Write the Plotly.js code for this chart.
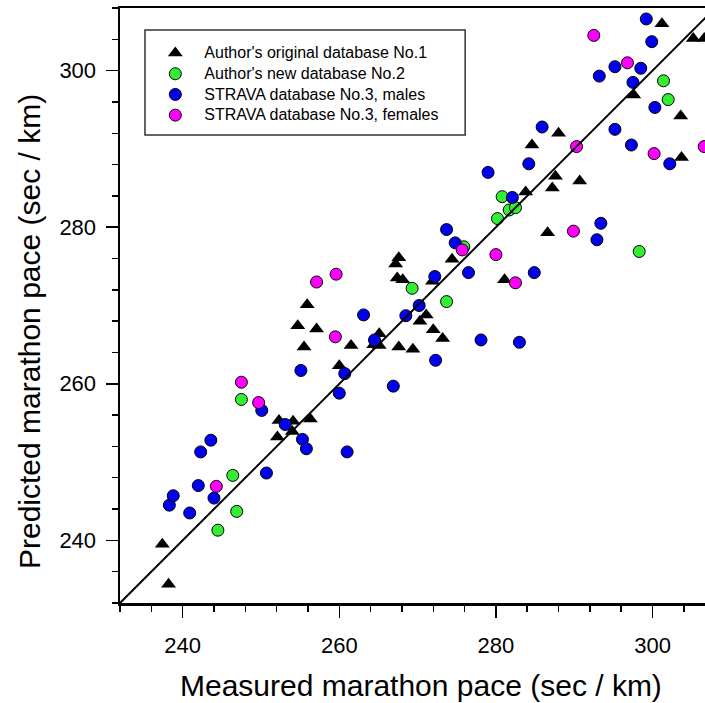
<!DOCTYPE html>
<html>
<head>
<meta charset="utf-8">
<script src="https://cdn.plot.ly/plotly-3.0.1.min.js"></script>
<style>
  html, body { margin: 0; padding: 0; background: #ffffff; }
  #chart { width: 705px; height: 703px; }
</style>
</head>
<body>
<div id="chart"></div>
<script>
// ---- Data ----
const seriesNames = [
  "Author's original database No.1",
  "Author's new database No.2",
  "STRAVA database No.3, males",
  "STRAVA database No.3, females"
];

// Database No.1 (black triangles): measured, predicted (sec/km)
const db1Measured = [237.4, 238.2, 252.3, 254.1, 256.3, 252.1, 254.0, 255.9, 254.7, 257.1,
  255.5, 261.5, 260.0, 265.1, 264.4, 265.1, 267.6, 269.4, 267.6, 267.2,
  267.4, 268.1, 274.4, 271.9, 281.1, 271.1, 270.3, 272.0, 273.2, 283.8,
  284.6, 288.0, 287.6, 287.2, 290.7, 286.6, 297.6, 301.2, 305.2, 306.6,
  303.6, 303.7];
const db1Predicted = [239.5, 234.4, 255.3, 255.2, 255.5, 253.2, 253.9, 270.1, 267.4, 267.0,
  264.7, 264.9, 262.3, 266.4, 265.0, 264.9, 264.7, 264.4, 276.1, 275.3,
  273.5, 273.3, 275.9, 273.1, 273.3, 268.8, 268.0, 266.9, 265.8, 284.5,
  290.5, 292.0, 286.5, 285.0, 285.9, 279.3, 296.9, 306.0, 304.1, 304.1,
  294.2, 288.9];

// Database No.2 (green circles)
const db2Measured = [247.5, 246.4, 246.9, 244.5, 269.3, 273.7, 275.9, 280.2, 280.8, 281.7,
  282.5, 298.3, 301.4, 302.0];
const db2Predicted = [258.0, 248.3, 243.7, 241.3, 272.2, 270.5, 277.5, 281.1, 283.9, 282.2,
  282.5, 276.9, 298.7, 296.3];

// STRAVA males (blue circles)
const maleMeasured = [238.3, 238.8, 240.9, 242.0, 244.0, 243.6, 242.3, 250.7, 250.1, 253.1,
  255.3, 255.8, 255.1, 260.0, 260.7, 261.0, 263.1, 264.5, 266.9, 268.5,
  270.2, 272.2, 272.3, 273.7, 274.8, 276.5, 278.1, 283.0, 279.0, 282.1,
  284.2, 285.9, 284.9, 293.4, 292.9, 293.2, 295.2, 298.5, 297.5, 295.2,
  297.3, 299.2, 299.9, 300.3, 302.2];
const malePredicted = [244.5, 245.7, 243.5, 247.0, 245.4, 252.8, 251.3, 248.6, 256.6, 254.8,
  252.9, 251.7, 261.7, 258.8, 261.3, 251.3, 268.8, 265.6, 259.7, 268.7,
  270.0, 273.7, 263.0, 279.7, 278.0, 274.2, 265.6, 265.3, 287.0, 283.8,
  288.1, 292.8, 274.2, 280.5, 278.4, 299.3, 300.5, 300.3, 298.5, 292.5,
  290.5, 306.6, 303.7, 295.3, 288.1];

// STRAVA females (magenta circles)
const femaleMeasured = [244.3, 247.5, 249.7, 257.1, 259.6, 259.5, 275.7, 280.0, 282.5, 289.9,
  290.3, 292.5, 296.8, 300.2, 306.6];
const femalePredicted = [246.9, 260.2, 257.6, 273.0, 274.0, 266.0, 277.1, 276.5, 272.9, 279.5,
  290.3, 304.5, 301.0, 289.4, 290.3];

// Line of identity (measured = predicted)
const identityLine = [232, 310];

// Axis ticks
const tickValues = [240, 260, 280, 300];
const tickLabels = ["240", "260", "280", "300"];

// ---- Styling ----
const FONT = "Liberation Sans, Arial, Helvetica, sans-serif";
const outline = { color: "#000000", width: 1 };
const legendLabel = s => '<span style="font-size:16px">' + s + '</span>';

const traces = [
  {
    x: db1Measured, y: db1Predicted, name: legendLabel(seriesNames[0]),
    type: "scatter", mode: "markers",
    marker: { symbol: "triangle-up", size: 13, color: "#000000", line: { width: 0 } }
  },
  {
    x: db2Measured, y: db2Predicted, name: legendLabel(seriesNames[1]),
    type: "scatter", mode: "markers",
    marker: { symbol: "circle", size: 12, color: "#33ee33", line: outline }
  },
  {
    x: maleMeasured, y: malePredicted, name: legendLabel(seriesNames[2]),
    type: "scatter", mode: "markers",
    marker: { symbol: "circle", size: 12, color: "#0000ee", line: outline }
  },
  {
    x: femaleMeasured, y: femalePredicted, name: legendLabel(seriesNames[3]),
    type: "scatter", mode: "markers",
    marker: { symbol: "circle", size: 12, color: "#ff00ff", line: outline }
  },
  {
    x: identityLine, y: identityLine, type: "scatter", mode: "lines",
    line: { color: "#000000", width: 2 }, showlegend: false, hoverinfo: "skip"
  }
];

const axisCommon = {
  showgrid: false, zeroline: false,
  showline: true, linecolor: "#000000", linewidth: 2.5,
  ticks: "outside", ticklen: 12, tickwidth: 1.5, tickcolor: "#000000",
  tickmode: "array", tickvals: tickValues, ticktext: tickLabels,
  tickfont: { family: FONT, size: 22, color: "#000000" },
  minor: { dtick: 4, tick0: 232, ticks: "outside", ticklen: 6, tickwidth: 1.5, tickcolor: "#000000" }
};

const layout = {
  width: 705, height: 703,
  margin: { l: 120, r: 0, t: 8, b: 100 },
  paper_bgcolor: "#ffffff", plot_bgcolor: "#ffffff",
  font: { family: FONT, color: "#000000" },
  showlegend: true,
  xaxis: Object.assign({}, axisCommon, {
    range: [232, 306.7], mirror: true, ticklabelstandoff: 9
  }),
  yaxis: Object.assign({}, axisCommon, {
    range: [232, 308], mirror: false, ticklabelstandoff: 5
  }),
  legend: {
    x: 0.045, y: 0.950, xanchor: "left", yanchor: "top",
    bgcolor: "rgba(0,0,0,0)", borderwidth: 0,
    font: { family: FONT, size: 13.6, color: "#000000" },
    itemwidth: 48, tracegroupgap: 0
  },
  shapes: [
    { type: "rect", xref: "paper", yref: "paper",
      x0: 0.0427, x1: 0.590, y0: 0.7866, y1: 0.963,
      line: { color: "#333333", width: 1.5 }, fillcolor: "rgba(0,0,0,0)" }
  ],
  annotations: [
    { text: "Measured marathon pace (sec / km)", xref: "paper", yref: "paper",
      x: 0.514, y: -0.138, xanchor: "center", yanchor: "middle", showarrow: false,
      font: { family: FONT, size: 30, color: "#000000" } },
    { text: "Predicted marathon pace (sec / km)", xref: "paper", yref: "paper",
      x: -0.155, y: 0.456, xanchor: "center", yanchor: "middle", showarrow: false,
      textangle: -90,
      font: { family: FONT, size: 30, color: "#000000" } }
  ]
};

Plotly.newPlot("chart", traces, layout, { displayModeBar: false, staticPlot: true });
</script>
</body>
</html>
